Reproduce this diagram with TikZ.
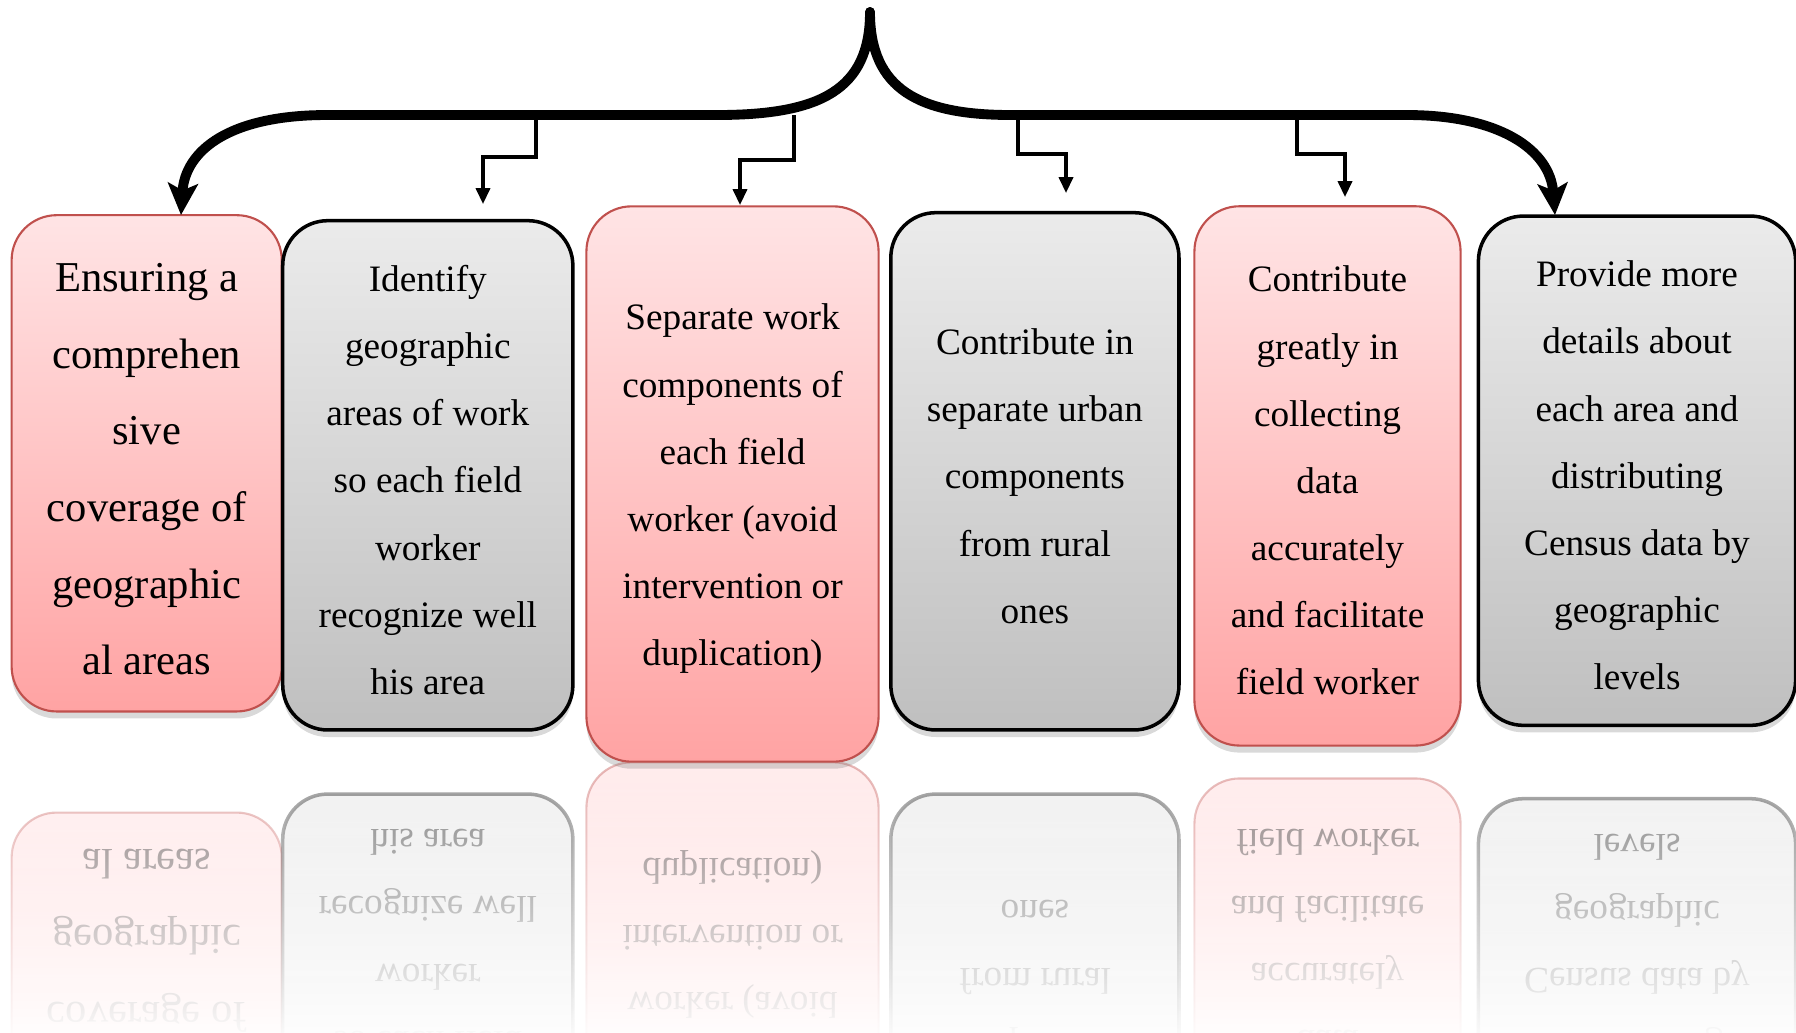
\documentclass[tikz,border=0pt]{standalone}
\usepackage{fontspec}
\setmainfont{Liberation Serif}
\usetikzlibrary{arrows.meta, shadows, fadings}
\definecolor{pinktop}{HTML}{FFE4E5}
\definecolor{pinkbot}{HTML}{FFA3A3}
\definecolor{pinkline}{HTML}{C0504D}
\definecolor{graytop}{HTML}{EBEBEB}
\definecolor{graybot}{HTML}{BFBFBF}
\tikzstyle{box} = [rectangle, rounded corners=0.45cm, align=center, text=black,
                   font=\fontsize{10.6}{19.1}\selectfont]
\tikzstyle{pinkbox} = [box, draw=pinkline, line width=0.6pt, top color=pinktop, bottom color=pinkbot]
\tikzstyle{graybox} = [box, draw=black, line width=1pt, top color=graytop, bottom color=graybot]
\tikzstyle{bigtext} = [font=\fontsize{12.1}{21.8}\selectfont]
\tikzstyle{boxshadow} = [drop shadow={shadow xshift=0pt, shadow yshift=-2pt, opacity=0.3}]
\tikzstyle{mirror} = [transform shape, fill opacity=0.7, draw opacity=0.4, text opacity=0.45]
\tikzstyle{bracearrow} = [line width=2.8pt, line cap=round, -{Stealth[length=9pt, width=8.5pt, inset=2pt]}]
\tikzstyle{brancharrow} = [line width=0.9pt, -{Triangle[length=4.5pt, width=4pt]}]
\tikzfading[name=reflfade, top color=transparent!100, bottom color=transparent!0]

% taller first line, pushes the text block a little down
\newcommand{\topgap}{\rule{0pt}{0.95em}}

% the six boxes: #1 extra style, #2 name prefix
\newcommand{\allboxes}[2]{%
    \node[pinkbox, bigtext, #1, minimum width=2.70cm, minimum height=4.96cm] (#21) at (146.7,463.3)
        {\topgap Ensuring a\\comprehen\\sive\\coverage of\\geographic\\al areas};
    \node[graybox, #1, minimum width=2.90cm, minimum height=5.09cm] (#22) at (427.8,475.3)
        {\topgap Identify\\geographic\\areas of work\\so each field\\worker\\recognize well\\his area};
    \node[pinkbox, #1, minimum width=2.92cm, minimum height=5.55cm] (#23) at (732.5,484)
        {\topgap Separate work\\components of\\each field\\worker (avoid\\intervention or\\duplication)};
    \node[graybox, #1, minimum width=2.88cm, minimum height=5.17cm] (#24) at (1034.9,471.3)
        {\topgap Contribute in\\separate urban\\components\\from rural\\ones};
    \node[pinkbox, #1, minimum width=2.66cm, minimum height=5.39cm] (#25) at (1327.5,475.9)
        {\topgap Contribute\\greatly in\\collecting\\data\\accurately\\and facilitate\\field worker};
    \node[graybox, #1, minimum width=3.17cm, minimum height=5.09cm] (#26) at (1637,470.7)
        {\topgap Provide more\\details about\\each area and\\distributing\\Census data by\\geographic\\levels};
}

\begin{document}
\begin{tikzpicture}[x=0.01cm, y=-0.01cm]
    \useasboundingbox (0,0) rectangle (1796,1032);

    % Reflection under the boxes
    \begin{scope}
        \clip (0,762) rectangle (1796,1032);
        \begin{scope}[shift={(0,1524)}, yscale=-1]
            \allboxes{mirror}{r}
        \end{scope}
    \end{scope}
    \fill[white, path fading=reflfade] (-10,762) rectangle (1806,1045);

    % Boxes
    \allboxes{boxshadow}{b}

    % Brace
    \coordinate (apex) at (870,12);
    \coordinate (lend) at (181,215);
    \coordinate (rend) at (1555,215);
    \draw[bracearrow] (apex) .. controls (870,90) and (820,115) .. (717,115) -- (327,115)
        .. controls (230,115) and (185,150) .. (lend);
    \draw[bracearrow] (apex) .. controls (870,90) and (920,115) .. (1011,115) -- (1407,115)
        .. controls (1500,115) and (1550,150) .. (rend);

    % Branch arrows
    \coordinate (s1) at (536,115);  \coordinate (e1) at (483,204);
    \coordinate (s2) at (794,115);  \coordinate (e2) at (740,205);
    \coordinate (s3) at (1018,115); \coordinate (e3) at (1066,193);
    \coordinate (s4) at (1297,115); \coordinate (e4) at (1345,197);
    \draw[brancharrow] (s1) -- ++(0,42) -| (e1);
    \draw[brancharrow] (s2) -- ++(0,45) -| (e2);
    \draw[brancharrow] (s3) -- ++(0,39) -| (e3);
    \draw[brancharrow] (s4) -- ++(0,39) -| (e4);
\end{tikzpicture}
\end{document}
